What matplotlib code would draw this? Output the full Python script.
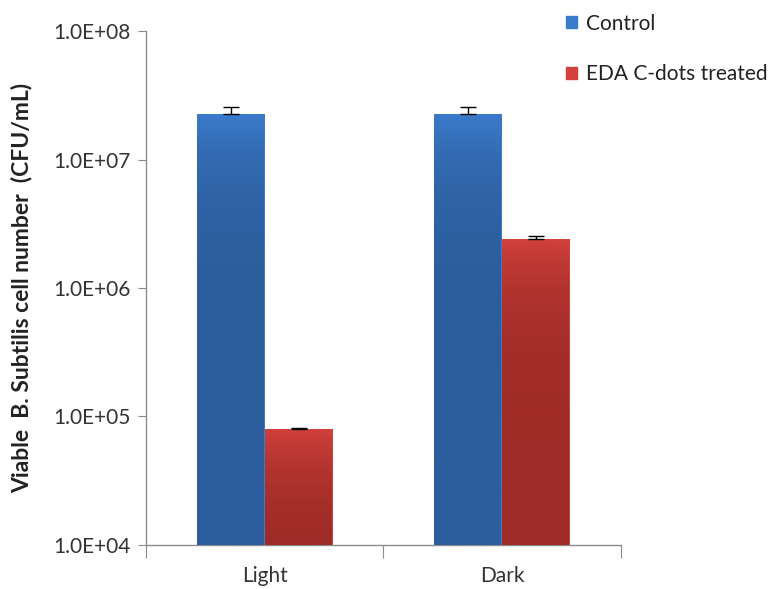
import numpy as np
import matplotlib
matplotlib.use("Agg")
import matplotlib.pyplot as plt
from matplotlib.patches import Rectangle
from matplotlib.colors import LinearSegmentedColormap
from matplotlib.ticker import FixedLocator, FuncFormatter

plt.rcParams['font.family'] = ['Lato', 'DejaVu Sans']

conditions = ['Light', 'Dark']
series = ['Control', 'EDA C-dots treated']
control = [2.25e7, 2.25e7]
control_err = [3.0e6, 3.0e6]
treated = [8.0e4, 2.4e6]
treated_err = [1.5e3, 1.2e5]

# top / bottom shades for the gradient fill
blue = ('#3b7bcc', '#2c5d9c')
red = ('#d2413b', '#9e2b27')

base = 1e4

fig = plt.figure(figsize=(7.8, 5.89), dpi=100)
ax = fig.add_axes([0.187, 0.075, 0.609, 0.872])

x = np.arange(len(conditions))
w = 0.286

ax.set_yscale('log')
ax.set_ylim(base, 1e8)
ax.set_xlim(-0.5, 1.5)

b1 = ax.bar(x - w / 2, np.array(control) - base, w, bottom=base,
            color=blue[0], zorder=2)
b2 = ax.bar(x + w / 2, np.array(treated) - base, w, bottom=base,
            color=red[0], zorder=2)

grad = np.linspace(1, 0, 256).reshape(-1, 1)
for bars, (c_top, c_bot) in ((b1, blue), (b2, red)):
    cmap = LinearSegmentedColormap.from_list('g', [c_bot, c_top])
    for p in bars:
        x0, y0 = p.get_x(), p.get_y()
        x1, y1 = x0 + p.get_width(), y0 + p.get_height()
        im = ax.imshow(grad, cmap=cmap, aspect='auto', extent=[x0, x1, y0, y1],
                       origin='upper', zorder=3, interpolation='bilinear')
        im.set_clip_path(p)

ax.errorbar(x - w / 2, control, yerr=[np.zeros(2), control_err], fmt='none',
            ecolor='black', elinewidth=1.0, capsize=6, capthick=1.0, zorder=4)
ax.errorbar(x + w / 2, treated, yerr=[np.zeros(2), treated_err], fmt='none',
            ecolor='black', elinewidth=1.0, capsize=6, capthick=1.0, zorder=4)

ax.set_xlim(-0.5, 1.5)
ax.set_ylim(base, 1e8)

for s in ('top', 'right'):
    ax.spines[s].set_visible(False)
for s in ('left', 'bottom'):
    ax.spines[s].set_color('#8c8c8c')
    ax.spines[s].set_linewidth(1.0)

ax.yaxis.set_major_locator(FixedLocator([1e4, 1e5, 1e6, 1e7, 1e8]))
ax.yaxis.set_minor_locator(FixedLocator([]))
ax.yaxis.set_major_formatter(FuncFormatter(lambda v, _: '%.1E' % v))
ax.tick_params(axis='y', length=6, color='#8c8c8c', labelsize=15,
               labelcolor='#333333', pad=5)

ax.set_xticks([-0.5, 0.5, 1.5])
ax.set_xticklabels([])
ax.set_xticks(x, minor=True)
ax.set_xticklabels(conditions, minor=True)
ax.tick_params(axis='x', which='major', length=9, color='#8c8c8c')
ax.tick_params(axis='x', which='minor', length=0, labelsize=15,
               labelcolor='#333333', pad=15)

ax.set_ylabel('Viable  B. Subtilis cell number  (CFU/mL)', fontsize=16.5,
              fontweight='bold', color='#222222')
ax.yaxis.set_label_coords(-0.238, 0.5)

handles = [Rectangle((0, 0), 1, 1, color=blue[0]),
           Rectangle((0, 0), 1, 1, color=red[0])]
fig.legend(handles, series, loc='upper left', bbox_to_anchor=(0.7256, 0.977),
           frameon=False, fontsize=15, handlelength=0.53, handleheight=0.53,
           handletextpad=0.42, labelspacing=1.48, borderpad=0,
           borderaxespad=0, labelcolor='#222222')

fig.savefig('out.png', dpi=100)
